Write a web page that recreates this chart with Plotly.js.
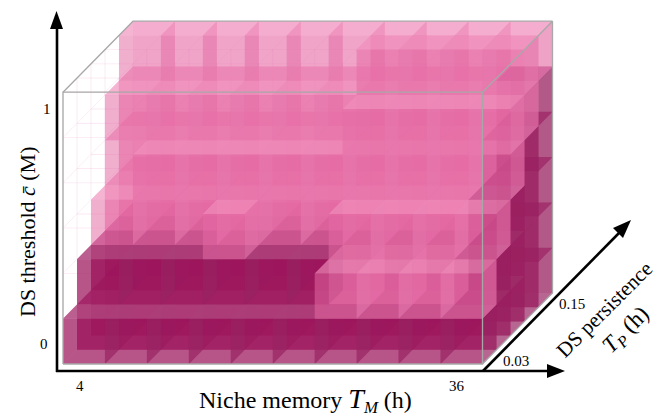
<!DOCTYPE html>
<html><head><meta charset="utf-8">
<script src="https://cdn.plot.ly/plotly-3.0.1.min.js"></script>
<style>html,body{margin:0;padding:0;background:#fff}#c{width:657px;height:416px}</style></head>
<body><div id="c"></div>
<script>
// 0 empty, 1 light, 2 dark. Each layer is a threshold level; rows are persistence (front to back), columns niche memory.
const layer0=[[2,2,2,2,2,2,2,2,2,2],[2,2,2,2,2,2,2,2,2,2],[2,2,2,2,2,2,2,2,2,2],[2,2,2,2,2,2,2,2,2,2],[2,2,2,2,2,2,2,2,2,2]];
const layer1=[[0,0,0,0,0,0,1,1,1,1],[2,2,2,2,2,2,1,1,1,2],[2,2,2,2,2,2,2,2,2,2],[2,2,2,2,2,2,2,2,2,2],[2,2,2,2,2,2,2,2,2,2]];
const layer2=[[0,0,0,0,0,0,0,0,0,0],[0,0,0,1,0,0,1,1,1,1],[1,1,1,1,1,1,1,1,1,2],[1,1,1,1,1,1,1,1,1,2],[1,1,1,1,1,1,1,1,1,2]];
const layer3=[[0,0,0,0,0,0,0,0,0,0],[0,0,0,0,0,0,0,0,0,0],[0,1,1,1,1,1,1,1,1,1],[1,1,1,1,1,1,1,1,1,2],[1,1,1,1,1,1,1,1,1,2]];
const layer4=[[0,0,0,0,0,0,0,0,0,0],[0,0,0,0,0,0,0,0,0,0],[0,0,0,0,0,0,1,1,1,1],[1,1,1,1,1,1,1,1,1,1],[1,1,1,1,1,1,1,1,1,2]];
const layer5=[[0,0,0,0,0,0,0,0,0,0],[0,0,0,0,0,0,0,0,0,0],[0,0,0,0,0,0,0,0,0,0],[0,0,0,0,0,0,1,1,1,1],[1,1,1,1,1,1,1,1,1,1]];
const layers=[layer0,layer1,layer2,layer3,layer4,layer5];
const nameX='Niche memory&nbsp;<span style="font-size:28px"><i>T</i></span><sub><i>M</i></sub> (h)';
const nameY='DS persistence';
const nameY2='<i>T</i><sub><i>P</i></sub> (h)';
const nameZ='DS threshold <i>c̄</i> (M)';

const O={x:63,y:364},UX=41.95,UD=[14,-14.2],UZ=45.3;
const P=(i,j,k)=>[O.x+UX*i+UD[0]*j, O.y+UD[1]*j-UZ*k];
const faceColor={
 1:{back:'rgba(232,108,166,0.36)',left:'rgba(232,108,166,0.25)',bottom:'rgba(232,108,166,0.25)',right:'rgba(230,122,174,0.50)',top:'rgba(243,150,192,0.55)',front:'rgba(230,104,164,0.38)'},
 2:{back:'rgba(157,22,92,0.5)',left:'rgba(157,22,92,0.4)',bottom:'rgba(157,22,92,0.4)',right:'rgba(150,40,100,0.5)',top:'rgba(178,72,128,0.75)',front:'rgba(157,22,92,0.55)'}
};
const faceOf={
 back:(i,j,k)=>[P(i,j+1,k),P(i+1,j+1,k),P(i+1,j+1,k+1),P(i,j+1,k+1)],
 left:(i,j,k)=>[P(i,j,k),P(i,j+1,k),P(i,j+1,k+1),P(i,j,k+1)],
 bottom:(i,j,k)=>[P(i,j,k),P(i+1,j,k),P(i+1,j+1,k),P(i,j+1,k)],
 right:(i,j,k)=>[P(i+1,j,k),P(i+1,j+1,k),P(i+1,j+1,k+1),P(i+1,j,k+1)],
 top:(i,j,k)=>[P(i,j,k+1),P(i+1,j,k+1),P(i+1,j+1,k+1),P(i,j+1,k+1)],
 front:(i,j,k)=>[P(i,j,k),P(i+1,j,k),P(i+1,j,k+1),P(i,j,k+1)]
};
const traces=[];
const common={mode:'lines',line:{width:0},fill:'toself',hoverinfo:'skip',showlegend:false};
{const fx=[],fy=[];
 layers.forEach((L,k)=>L.forEach((R,j)=>R.forEach((v,i)=>{if(v)return;
  ['front','top','left'].forEach(f=>{const q=faceOf[f](i,j,k);q.concat([q[0]]).forEach(p=>{fx.push(p[0]);fy.push(p[1]);});fx.push(null);fy.push(null);});
 })));
 traces.push({x:fx,y:fy,mode:'lines',line:{width:1,color:'rgba(235,170,215,0.07)'},hoverinfo:'skip',showlegend:false});
}
for(let j=4;j>=0;j--){for(let k=0;k<6;k++){
 ['back','bottom','left','front','right','top'].forEach(f=>{[1,2].forEach(v=>{
  const xs=[],ys=[];
  layers[k][j].forEach((val,i)=>{if(val!==v)return;const q=faceOf[f](i,j,k);
    q.forEach(p=>{xs.push(p[0]);ys.push(p[1]);});xs.push(q[0][0]);ys.push(q[0][1]);xs.push(null);ys.push(null);});
  if(xs.length)traces.push(Object.assign({},common,{x:xs,y:ys,fillcolor:faceColor[v][f]}));
 });});
}}
{const E=[[[0,0,0],[10,0,0],[10,0,6],[0,0,6],[0,0,0]],[[0,0,6],[0,5,6],[10,5,6],[10,0,6]],[[10,5,6],[10,5,0],[10,0,0]]];
 const fx=[],fy=[];E.forEach(s=>{s.forEach(c=>{const p=P(c[0],c[1],c[2]);fx.push(p[0]);fy.push(p[1]);});fx.push(null);fy.push(null);});
 traces.push({x:fx,y:fy,mode:'lines',line:{width:1.3,color:'#a8a8a8'},hoverinfo:'skip',showlegend:false});
}
const ann=(text,x,y,size,angle)=>({text,x,y,xref:'x',yref:'y',showarrow:false,textangle:angle||0,xanchor:'center',yanchor:'middle',font:{family:'Liberation Serif',size,color:'#000'}});
const line=(x0,y0,x1,y1)=>({type:'line',xref:'x',yref:'y',x0,y0,x1,y1,line:{color:'#000',width:2.6}});
const head=(d)=>({type:'path',xref:'x',yref:'y',path:d,fillcolor:'#000',line:{width:0}});
const layout={width:657,height:416,margin:{l:0,r:0,t:0,b:0},paper_bgcolor:'#fff',plot_bgcolor:'#fff',showlegend:false,
 xaxis:{range:[0,657],visible:false,fixedrange:true},
 yaxis:{range:[416,0],visible:false,fixedrange:true},
 shapes:[line(57,372,57,26),line(56,371,550,371),line(483,371,620,232),
  head('M 56.5 11 L 50 29 L 63 29 Z'),head('M 565 371 L 547 364 L 547 378 Z'),head('M 631 220 L 613 228 L 623 238 Z')],
 annotations:[ann(nameX,305,400,24),ann(nameZ,27,232,22,-90),ann(nameY,604,310,21,-45),ann(nameY2,626,331,23,-45),
  ann('1',47,109,15),ann('0',44,344,15),ann('4',80,386,15),ann('36',457,386,15),ann('0.03',516,361,15),ann('0.15',572,304,15)]};
Plotly.newPlot('c',traces,layout,{displayModeBar:false,staticPlot:true});
</script></body></html>
